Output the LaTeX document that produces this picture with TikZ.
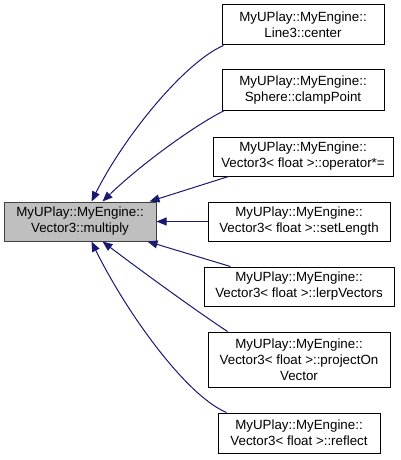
\documentclass[tikz,border=0pt]{standalone}
\usepackage{fontspec}
\setmainfont{Liberation Sans}
\usetikzlibrary{arrows.meta,calc}
\definecolor{edgeblue}{HTML}{191970}
\definecolor{mainfill}{HTML}{BFBFBF}
\definecolor{mainline}{HTML}{404040}
\begin{document}
\begin{tikzpicture}[x=0.75pt,y=-0.75pt,
  fn/.style={draw=black,line width=0.75pt,fill=white,inner sep=0pt,align=center,
    font=\fontsize{10}{12}\selectfont,minimum height=30pt},
  mainbox/.style={fn,draw=mainline,fill=mainfill},
  calls/.style={draw=edgeblue,line width=0.75pt,-{Triangle[length=7.5pt,width=6pt]},color=edgeblue}]
\useasboundingbox (0,0) rectangle (400,460);
\node[mainbox,minimum width=114pt,minimum height=29.25pt] (main) at (80,221.5) {MyUPlay::MyEngine::\\Vector3::multiply};
\node[fn,minimum width=121.5pt] (n1) at (303,25) {MyUPlay::MyEngine::\\Line3::center};
\node[fn,minimum width=121.5pt] (n2) at (303,90) {MyUPlay::MyEngine::\\Sphere::clampPoint};
\node[fn,minimum width=135pt,minimum height=29.25pt] (n3) at (303,156.5) {MyUPlay::MyEngine::\\Vector3< float >::operator*=};
\node[fn,minimum width=136.5pt,minimum height=29.25pt] (n4) at (299,221.5) {MyUPlay::MyEngine::\\Vector3< float >::setLength};
\node[fn,minimum width=142.5pt,minimum height=29.25pt] (n5) at (299,286.5) {MyUPlay::MyEngine::\\Vector3< float >::lerpVectors};
\node[fn,minimum width=136.5pt,minimum height=41.25pt] (n6) at (299,359.5) {MyUPlay::MyEngine::\\Vector3< float >::projectOn\\Vector};
\node[fn,minimum width=121.5pt] (n7) at (299,433) {MyUPlay::MyEngine::\\Vector3< float >::reflect};
\coordinate (t1) at ($(main.north west)+(88,0)$);
\coordinate (t2) at ($(main.north west)+(99,0)$);
\coordinate (t3) at ($(main.north west)+(146,0)$);
\coordinate (t5) at ($(main.south west)+(144,0)$);
\coordinate (t6) at ($(main.south west)+(99,0)$);
\coordinate (t7) at ($(main.south west)+(88,0)$);
\draw[calls] ($(n1.south west)+(2,0)$) .. controls (185,62) and (125,135) .. (t1);
\draw[calls] ($(n2.south west)+(3,0)$) .. controls (195,125) and (140,165) .. (t2);
\draw[calls] ($(n3.south west)+(16,0)$) -- (t3);
\draw[calls] (n4.west) -- (main.east);
\draw[calls] ($(n5.north west)+(27,0)$) -- (t5);
\draw[calls] ($(n6.north west)+(20,0)$) .. controls (195,310) and (140,270) .. (t6);
\draw[calls] ($(n7.north west)+(9,0)$) .. controls (185,395) and (125,310) .. (t7);
\end{tikzpicture}
\end{document}
